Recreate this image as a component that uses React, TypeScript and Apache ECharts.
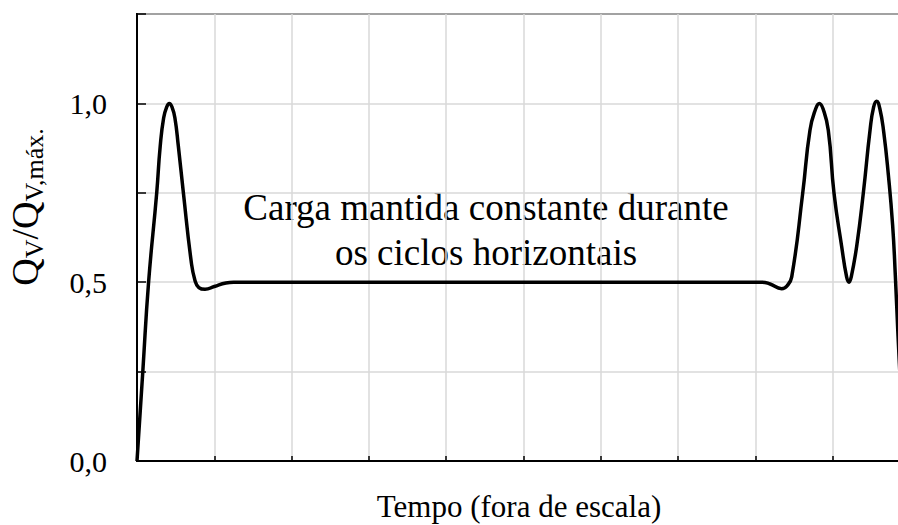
import React, { useEffect, useRef } from "react";
import * as echarts from "echarts";

// Time axis (arbitrary units, not to scale) and normalised load Qv/Qv,max
const timeValues = [
  0, 0.075, 0.15, 0.255, 0.30, 0.345, 0.385, 0.418, 0.452, 0.49, 0.535, 0.60, 0.70, 0.75, 0.80, 0.88, 1.0, 1.15, 1.25,
  2, 3, 4, 5, 6, 7, 8.085,
  8.19, 8.34, 8.41, 8.47, 8.612, 8.706, 8.78, 8.827, 8.875, 8.943, 9.017, 9.116, 9.18, 9.211, 9.24,
  9.31, 9.396, 9.483, 9.53, 9.569, 9.61, 9.66, 9.72, 9.775, 9.81, 9.845, 9.88, 9.92,
];
const loadValues = [
  0, 0.25, 0.5, 0.75, 0.88, 0.96, 0.99, 1.0, 0.99, 0.96, 0.88, 0.75, 0.56, 0.505, 0.485, 0.48, 0.488, 0.498, 0.5,
  0.5, 0.5, 0.5, 0.5, 0.5, 0.5, 0.5,
  0.495, 0.482, 0.49, 0.515, 0.749, 0.925, 0.985, 1.0, 0.985, 0.925, 0.749, 0.6, 0.515, 0.5, 0.515,
  0.6, 0.749, 0.925, 0.99, 1.006, 0.985, 0.92, 0.8, 0.66, 0.52, 0.35, 0.2, 0.03,
];
const yLabelValues = [0, 0.5, 1.0];
const xAxisTitle = "Tempo (fora de escala)";
const noteLines = ["Carga mantida constante durante", "os ciclos horizontais"];

const FONT = "'Liberation Serif', 'Times New Roman', serif";

export default function App() {
  const ref = useRef<HTMLDivElement>(null);
  useEffect(() => {
    if (!ref.current) return;
    const chart = echarts.init(ref.current, undefined, { renderer: "svg" });
    const data = timeValues.map((t, i) => [t, loadValues[i]]);
    chart.setOption({
      animation: false,
      backgroundColor: "#ffffff",
      grid: {
        left: 137,
        top: 14,
        bottom: 64,
        right: 10,
        show: true,
        borderColor: "#000",
        borderWidth: 2,
        backgroundColor: "transparent",
      },
      xAxis: {
        type: "value",
        min: 0,
        max: 10,
        interval: 1,
        axisLine: { show: true, onZero: false, lineStyle: { color: "#000", width: 2 } },
        axisTick: { show: true, inside: true, length: 5, lineStyle: { color: "#000", width: 1.5 } },
        axisLabel: { show: false },
        splitLine: { show: true, lineStyle: { color: "#d9d9d9", width: 1.5 } },
      },
      yAxis: {
        type: "value",
        min: 0,
        max: 1.25,
        interval: 0.25,
        axisLine: { show: true, lineStyle: { color: "#000", width: 2 } },
        axisTick: { show: true, inside: true, length: 9, lineStyle: { color: "#000", width: 1.5 } },
        axisLabel: {
          show: true,
          margin: 30,
          color: "#000",
          fontFamily: FONT,
          fontSize: 30,
          formatter: (v: number) =>
            yLabelValues.some((y) => Math.abs(y - v) < 1e-9) ? v.toFixed(1).replace(".", ",") : "",
        },
        splitLine: { show: true, lineStyle: { color: "#d9d9d9", width: 1.5 } },
      },
      series: [
        {
          type: "line",
          data,
          smooth: 0.5,
          symbol: "none",
          clip: true,
          lineStyle: { color: "#000", width: 3.5 },
        },
      ],
      graphic: [
        {
          type: "text",
          x: 486,
          y: 207,
          style: {
            text: noteLines[0],
            font: `37px ${FONT}`,
            fill: "#000",
            align: "center",
            verticalAlign: "middle",
            textAlign: "center",
            textVerticalAlign: "middle",
          },
        },
        {
          type: "text",
          x: 486,
          y: 252,
          style: {
            text: noteLines[1],
            font: `37px ${FONT}`,
            fill: "#000",
            align: "center",
            verticalAlign: "middle",
            textAlign: "center",
            textVerticalAlign: "middle",
          },
        },
        {
          type: "text",
          x: 519,
          y: 506,
          style: {
            text: xAxisTitle,
            font: `31px ${FONT}`,
            fill: "#000",
            align: "center",
            verticalAlign: "middle",
            textAlign: "center",
            textVerticalAlign: "middle",
          },
        },
        {
          type: "text",
          x: 25,
          y: 207,
          rotation: Math.PI / 2,
          style: {
            text: "{q|Q}{s|V}{q|/Q}{s|V,máx.}",
            align: "center",
            verticalAlign: "middle",
            textAlign: "center",
            textVerticalAlign: "middle",
            fill: "#000",
            rich: {
              q: { fontFamily: FONT, fontSize: 38, lineHeight: 44, verticalAlign: "middle", fill: "#000", color: "#000" },
              s: { fontFamily: FONT, fontSize: 26, lineHeight: 22, verticalAlign: "bottom", fill: "#000", color: "#000" },
            },
          },
        },
      ],
    });
    return () => chart.dispose();
  }, []);
  return (
    <div
      ref={ref}
      style={{ position: "fixed", left: 0, top: 0, width: 920, height: 525, overflow: "hidden" }}
    />
  );
}
